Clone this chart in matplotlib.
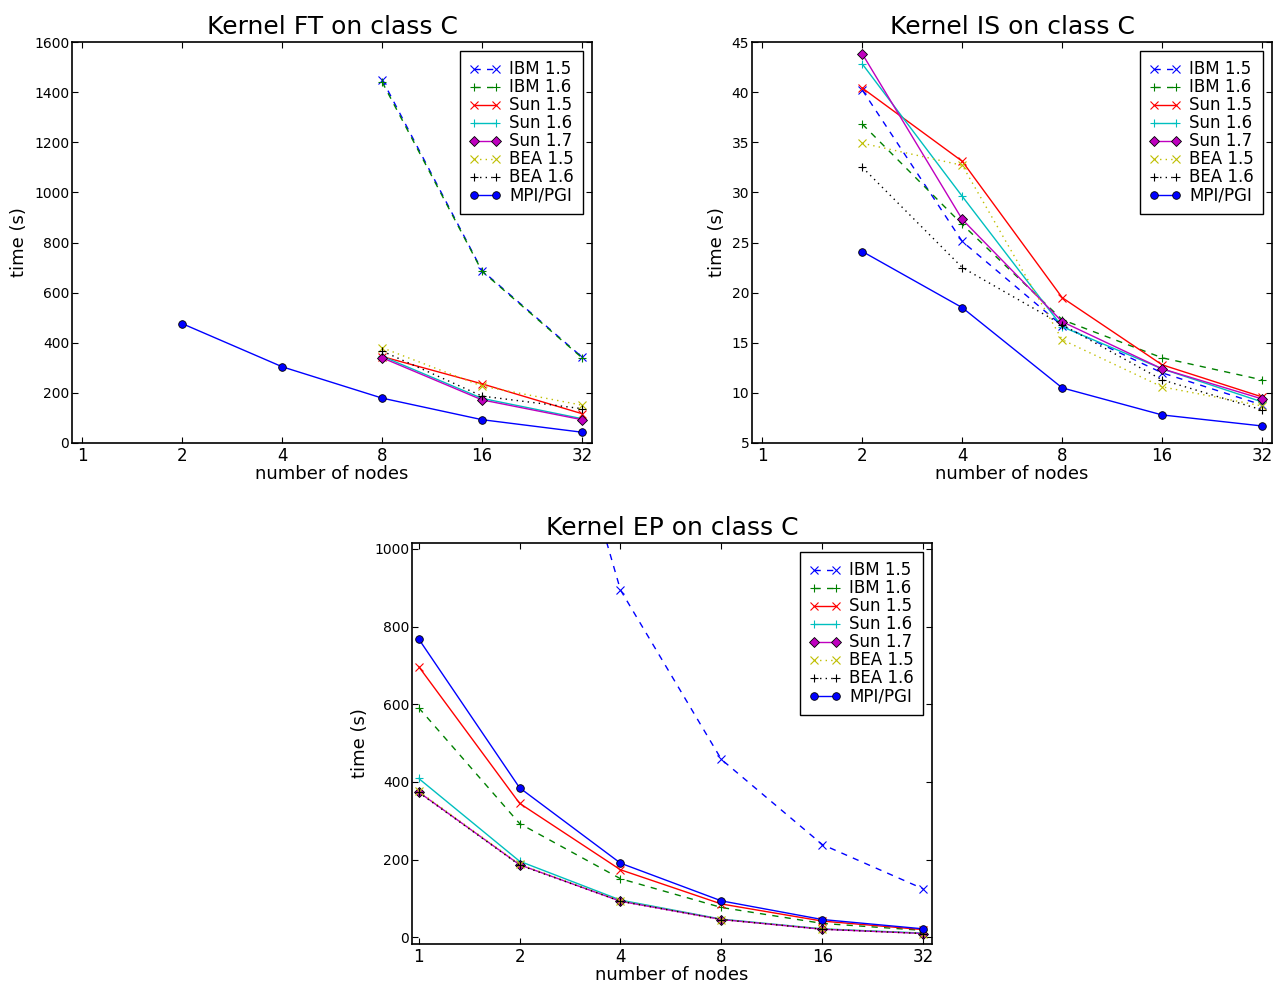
import numpy as np
import matplotlib
matplotlib.use('Agg')
import matplotlib.pyplot as plt

nan = np.nan
nodes = [1, 2, 4, 8, 16, 32]
node_labels = ['1', '2', '4', '8', '16', '32']
series_names = ['IBM 1.5', 'IBM 1.6', 'Sun 1.5', 'Sun 1.6', 'Sun 1.7',
                'BEA 1.5', 'BEA 1.6', 'MPI/PGI']

# Kernel FT, class C (time in s)
ft_ibm15 = [nan, nan, nan, 1450, 688, 343]
ft_ibm16 = [nan, nan, nan, 1440, 685, 340]
ft_sun15 = [nan, nan, nan, 345, 236, 117]
ft_sun16 = [nan, nan, nan, 346, 178, 97]
ft_sun17 = [nan, nan, nan, 340, 172, 93]
ft_bea15 = [nan, nan, nan, 380, 227, 151]
ft_bea16 = [nan, nan, nan, 367, 187, 137]
ft_mpi = [nan, 476, 304, 179, 93, 43]

# Kernel IS, class C
is_ibm15 = [nan, 40.2, 25.1, 16.7, 12.0, 8.8]
is_ibm16 = [nan, 36.8, 26.8, 17.3, 13.5, 11.3]
is_sun15 = [nan, 40.4, 33.1, 19.5, 12.8, 9.6]
is_sun16 = [nan, 42.8, 29.6, 16.6, 12.4, 9.1]
is_sun17 = [nan, 43.8, 27.3, 17.1, 12.4, 9.4]
is_bea15 = [nan, 34.9, 32.7, 15.3, 10.6, 8.7]
is_bea16 = [nan, 32.5, 22.5, 16.8, 11.3, 8.3]
is_mpi = [nan, 24.1, 18.5, 10.5, 7.8, 6.7]

# Kernel EP, class C
ep_ibm15 = [nan, 1790, 894, 458, 239, 125]
ep_ibm16 = [591, 293, 151, 77, 36, 18]
ep_sun15 = [697, 345, 174, 86, 42, 20]
ep_sun16 = [409, 196, 96, 47, 22, 11]
ep_sun17 = [374, 187, 93, 46, 21, 10]
ep_bea15 = [376, 188, 94, 46, 22, 10]
ep_bea16 = [373, 186, 93, 46, 21, 10]
ep_mpi = [768, 385, 191, 94, 46, 22]

dashed = (0, (4.5, 4.5))
dotted = (0, (1, 3))
# colour, linestyle, marker for each series (old matplotlib look)
styles = [
    ('b', dashed, 'x'),
    ('g', dashed, '+'),
    ('r', '-', 'x'),
    ('c', '-', '+'),
    ('m', '-', 'D'),
    ('y', dotted, 'x'),
    ('k', dotted, '+'),
    ('b', '-', 'o'),
]


def draw_panel(ax, title, data, ylim, yticks, xlim):
    for name, ys, (col, ls, mk) in zip(series_names, data, styles):
        kw = dict(color=col, linestyle=ls, marker=mk, linewidth=1.0,
                  label=name)
        if mk in ('o', 'D'):
            kw.update(markerfacecolor=col, markeredgecolor='k',
                      markeredgewidth=0.6, markersize=5.5 if mk == 'o' else 5)
        else:
            kw.update(markersize=5.5, markeredgewidth=0.8)
        ax.plot(nodes, ys, **kw)

    ax.set_xscale('log', base=2)
    ax.set_xlim(*xlim)
    ax.set_xticks(nodes)
    ax.set_xticklabels(node_labels)
    ax.minorticks_off()
    ax.set_ylim(*ylim)
    ax.set_yticks(yticks)
    ax.tick_params(axis='both', direction='in', top=True, right=True,
                   length=4, width=0.8, pad=2)
    ax.tick_params(axis='x', labelsize=12, pad=3)
    ax.tick_params(axis='y', labelsize=10)
    for sp in ax.spines.values():
        sp.set_linewidth(1.2)

    ax.set_title(title, fontsize=18, pad=6)
    ax.set_xlabel('number of nodes', fontsize=13, labelpad=0)
    ax.set_ylabel('time (s)', fontsize=13, labelpad=4)

    leg = ax.legend(loc='upper right', numpoints=2, fontsize=12,
                    labelspacing=0.0, handlelength=1.9, handletextpad=0.5,
                    borderpad=0.55, borderaxespad=0.55, fancybox=False,
                    framealpha=1.0, edgecolor='k')
    leg.get_frame().set_linewidth(1.0)


fig = plt.figure(figsize=(12.77, 9.85), dpi=100)

ax1 = fig.add_axes([72 / 1277, 1 - 443 / 985, 520 / 1277, 401 / 985])
draw_panel(ax1, 'Kernel FT on class C',
           [ft_ibm15, ft_ibm16, ft_sun15, ft_sun16, ft_sun17, ft_bea15, ft_bea16, ft_mpi],
           (0, 1600), range(0, 1601, 200), (0.93, 34.3))

ax2 = fig.add_axes([752 / 1277, 1 - 443 / 985, 520 / 1277, 401 / 985])
draw_panel(ax2, 'Kernel IS on class C',
           [is_ibm15, is_ibm16, is_sun15, is_sun16, is_sun17, is_bea15, is_bea16, is_mpi],
           (5, 45), range(5, 46, 5), (0.93, 34.3))

ax3 = fig.add_axes([412 / 1277, 1 - 944 / 985, 520 / 1277, 401 / 985])
draw_panel(ax3, 'Kernel EP on class C',
           [ep_ibm15, ep_ibm16, ep_sun15, ep_sun16, ep_sun17, ep_bea15, ep_bea16, ep_mpi],
           (-17, 1015), range(0, 1001, 200), (0.955, 34.0))

fig.savefig('out.png', dpi=100)
